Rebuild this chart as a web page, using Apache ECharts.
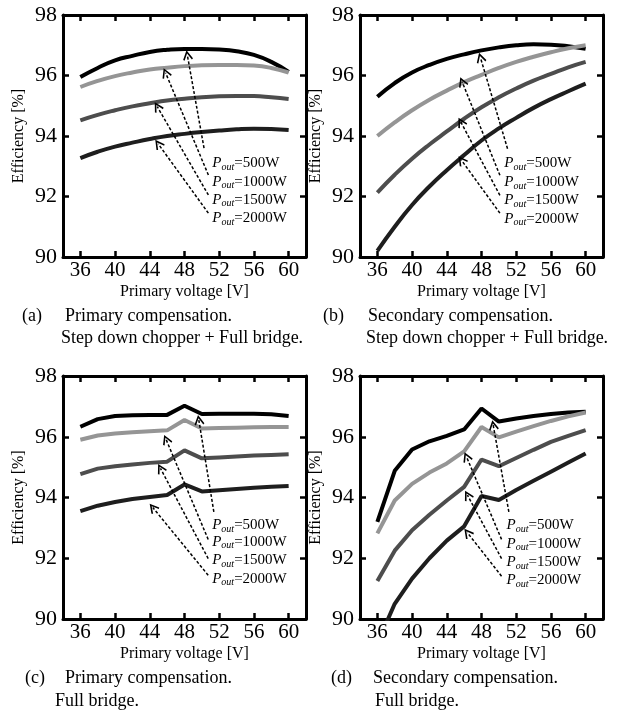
<!DOCTYPE html>
<html>
<head>
<meta charset="utf-8">
<script src="https://cdn.jsdelivr.net/npm/echarts@6/dist/echarts.min.js"></script>
<style>
html, body { margin: 0; padding: 0; background: #fff; }
#main { width: 636px; height: 714px; }
</style>
</head>
<body>
<div id="main"></div>
<script>
//横轴: 一次侧电压
var voltage = [36, 38, 40, 42, 44, 46, 48, 50, 52, 54, 56, 58, 60];
var xTicks = [36, 40, 44, 48, 52, 56, 60];
var powerNames = ['500W', '1000W', '1500W', '2000W'];

//(a) 一次侧补偿 降压斩波+全桥
var a500 = [95.95, 96.25, 96.5, 96.65, 96.78, 96.85, 96.88, 96.88, 96.86, 96.8, 96.68, 96.45, 96.12];
var a1000 = [95.62, 95.82, 95.98, 96.1, 96.2, 96.26, 96.31, 96.34, 96.35, 96.35, 96.33, 96.25, 96.1];
var a1500 = [94.52, 94.7, 94.85, 94.98, 95.08, 95.17, 95.23, 95.28, 95.31, 95.32, 95.32, 95.28, 95.22];
var a2000 = [93.27, 93.48, 93.65, 93.78, 93.9, 94.0, 94.07, 94.13, 94.18, 94.22, 94.24, 94.23, 94.2];

//(b) 二次侧补偿 降压斩波+全桥
var b500 = [95.3, 95.75, 96.1, 96.35, 96.55, 96.7, 96.83, 96.93, 97.0, 97.03, 97.02, 96.97, 96.88];
var b1000 = [94.0, 94.45, 94.85, 95.2, 95.5, 95.78, 96.02, 96.25, 96.45, 96.62, 96.77, 96.9, 97.0];
var b1500 = [92.13, 92.72, 93.25, 93.72, 94.15, 94.57, 94.95, 95.28, 95.57, 95.83, 96.05, 96.27, 96.45];
var b2000 = [90.2, 91.0, 91.72, 92.33, 92.87, 93.37, 93.85, 94.25, 94.6, 94.93, 95.22, 95.48, 95.73];

//(c) 一次侧补偿 全桥
var c500 = [96.33, 96.58, 96.68, 96.71, 96.72, 96.72, 97.02, 96.75, 96.76, 96.76, 96.76, 96.74, 96.68];
var c1000 = [95.9, 96.04, 96.11, 96.15, 96.18, 96.21, 96.55, 96.27, 96.29, 96.3, 96.31, 96.32, 96.32];
var c1500 = [94.77, 94.95, 95.03, 95.09, 95.14, 95.18, 95.55, 95.29, 95.32, 95.35, 95.38, 95.4, 95.42];
var c2000 = [93.55, 93.73, 93.85, 93.95, 94.02, 94.08, 94.43, 94.2, 94.24, 94.28, 94.32, 94.35, 94.38];

//(d) 二次侧补偿 全桥
var d500 = [93.2, 94.88, 95.58, 95.85, 96.03, 96.24, 96.93, 96.5, 96.6, 96.68, 96.75, 96.8, 96.82];
var d1000 = [92.82, 93.9, 94.45, 94.82, 95.12, 95.52, 96.32, 95.98, 96.17, 96.35, 96.52, 96.67, 96.8];
var d1500 = [91.25, 92.25, 92.92, 93.43, 93.9, 94.35, 95.25, 95.03, 95.3, 95.57, 95.83, 96.03, 96.22];
var d2000 = [89.2, 90.5, 91.33, 92.0, 92.58, 93.05, 94.05, 93.92, 94.25, 94.55, 94.85, 95.15, 95.45];

//标注箭头 [尾x, 尾y, 头x, 头y] 以及文字锚点 [x, y]
var arrowsA = [[50.25, 93.6, 48.33, 96.67], [50.75, 92.71, 45.82, 96.09], [50.75, 92.05, 44.86, 94.97], [50.75, 91.45, 44.97, 93.74]];
var labelsA = [[51.2, 93.09], [51.2, 92.49], [51.2, 91.89], [51.2, 91.29]];
var arrowsB = [[51.0, 93.58, 47.88, 96.59], [50.12, 92.7, 45.77, 95.79], [50.12, 92.04, 45.62, 94.46], [50.12, 91.45, 45.69, 93.2]];
var labelsB = [[50.62, 93.09], [50.62, 92.48], [50.62, 91.87], [50.62, 91.27]];
var arrowsC = [[51.38, 93.53, 49.65, 96.55], [50.73, 92.62, 45.88, 95.91], [50.73, 91.99, 45.23, 94.96], [50.73, 91.44, 44.35, 93.67]];
var labelsC = [[51.19, 93.09], [51.19, 92.54], [51.19, 91.93], [51.19, 91.33]];
var arrowsD = [[51.15, 93.53, 49.35, 96.38], [50.31, 92.62, 46.27, 95.34], [50.31, 91.99, 46.38, 94.08], [50.31, 91.41, 46.38, 92.84]];
var labelsD = [[50.88, 93.09], [50.88, 92.48], [50.88, 91.88], [50.88, 91.27]];

var serif = '"Liberation Serif", "Times New Roman", serif';
var lineColors = ['#000000', '#959595', '#4d4d4d', '#1e1e1e'];
var chevron = 'path://M5,0 L10,9 L8.7,10 L5,3.2 L1.3,10 L0,9 Z';

var grids = [
	{ left: 63, top: 15, width: 243, height: 242 },
	{ left: 360, top: 15, width: 243, height: 242 },
	{ left: 63, top: 376, width: 243, height: 243 },
	{ left: 360, top: 376, width: 243, height: 243 }
];

var panels = [
	{ data: [a500, a1000, a1500, a2000], arrows: arrowsA, labels: labelsA, smooth: true },
	{ data: [b500, b1000, b1500, b2000], arrows: arrowsB, labels: labelsB, smooth: true },
	{ data: [c500, c1000, c1500, c2000], arrows: arrowsC, labels: labelsC, smooth: false },
	{ data: [d500, d1000, d1500, d2000], arrows: arrowsD, labels: labelsD, smooth: false }
];

var xAxes = [], yAxes = [], series = [];

var frameLine = { show: true, onZero: false, lineStyle: { color: '#000', width: 3 } };
var tickStyle = { inside: true, length: 6, lineStyle: { color: '#000', width: 2.5 } };

panels.forEach(function(p, i) {
	//下方横轴(带刻度文字)
	xAxes.push({
		gridIndex: i, type: 'value', min: 34, max: 62, position: 'bottom',
		axisLine: frameLine,
		axisTick: { inside: true, length: 6, lineStyle: tickStyle.lineStyle, customValues: xTicks },
		axisLabel: { customValues: xTicks, fontSize: 21, color: '#000', fontFamily: serif, margin: 3 },
		splitLine: { show: false },
		name: 'Primary voltage [V]', nameLocation: 'middle', nameGap: 27,
		nameTextStyle: { fontSize: 16, color: '#000', fontFamily: serif }
	});
	//上方横轴(只有刻度)
	xAxes.push({
		gridIndex: i, type: 'value', min: 34, max: 62, position: 'top',
		axisLine: frameLine,
		axisTick: { inside: true, length: 6, lineStyle: tickStyle.lineStyle, customValues: xTicks },
		axisLabel: { show: false },
		splitLine: { show: false }
	});
	yAxes.push({
		gridIndex: i, type: 'value', min: 90, max: 98, interval: 2, position: 'left',
		axisLine: frameLine,
		axisTick: tickStyle,
		axisLabel: { fontSize: 22, color: '#000', fontFamily: serif, margin: 6 },
		splitLine: { show: false },
		name: 'Efficiency [%]', nameLocation: 'middle', nameGap: 36,
		nameTextStyle: { fontSize: 16, color: '#000', fontFamily: serif }
	});
	yAxes.push({
		gridIndex: i, type: 'value', min: 90, max: 98, interval: 2, position: 'right',
		axisLine: frameLine,
		axisTick: tickStyle,
		axisLabel: { show: false },
		splitLine: { show: false }
	});

	p.data.forEach(function(vals, k) {
		var ar = p.arrows[k];
		var lb = p.labels[k];
		series.push({
			type: 'line',
			xAxisIndex: 2 * i,
			yAxisIndex: 2 * i,
			data: voltage.map(function(v, j) { return [v, vals[j]]; }),
			showSymbol: false,
			smooth: p.smooth,
			clip: true,
			lineStyle: { color: lineColors[k], width: 4 },
			markLine: {
				silent: true,
				symbol: ['none', chevron],
				symbolSize: 10,
				label: { show: false },
				lineStyle: { type: [3, 2], width: 1.5, color: '#000' },
				data: [[{ coord: [ar[0], ar[1]] }, { coord: [ar[2], ar[3]] }]]
			},
			markPoint: {
				silent: true,
				symbol: 'circle',
				symbolSize: 0,
				label: {
					show: true,
					position: 'right',
					distance: 0,
					formatter: '{p|P}{s|out}{e|=' + powerNames[k] + '}',
					rich: {
						p: { fontSize: 15, fontStyle: 'italic', fontFamily: serif, color: '#000' },
						s: { fontSize: 10, fontStyle: 'italic', fontFamily: serif, color: '#000', padding: [8, 0, 0, 0] },
						e: { fontSize: 15, fontFamily: serif, color: '#000' }
					}
				},
				data: [{ coord: [lb[0], lb[1]] }]
			}
		});
	});
});

//图注文字
var captions = [
	{ x: 22, y: 316, text: '(a)' }, { x: 65, y: 316, text: 'Primary compensation.' },
	{ x: 61, y: 338, text: 'Step down chopper + Full bridge.' },
	{ x: 323, y: 316, text: '(b)' }, { x: 368, y: 316, text: 'Secondary compensation.' },
	{ x: 366, y: 338, text: 'Step down chopper + Full bridge.' },
	{ x: 25, y: 678, text: '(c)' }, { x: 65, y: 678, text: 'Primary compensation.' },
	{ x: 55, y: 701, text: 'Full bridge.' },
	{ x: 331, y: 678, text: '(d)' }, { x: 373, y: 678, text: 'Secondary compensation.' },
	{ x: 375, y: 701, text: 'Full bridge.' }
];

var chart = echarts.init(document.getElementById('main'));
chart.setOption({
	animation: false,
	backgroundColor: '#fff',
	grid: grids,
	xAxis: xAxes,
	yAxis: yAxes,
	series: series,
	graphic: captions.map(function(c) {
		return {
			type: 'text', x: c.x, y: c.y,
			style: { text: c.text, font: '18px ' + serif, fill: '#000', verticalAlign: 'middle' }
		};
	})
});
</script>
</body>
</html>
